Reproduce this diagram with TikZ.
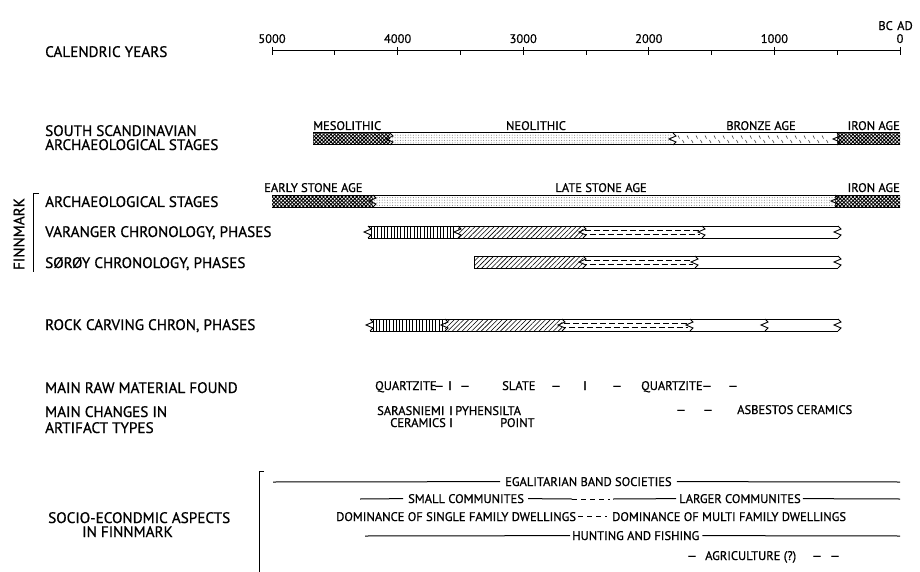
\documentclass[tikz,border=0pt]{standalone}
\usepackage{fontspec}
\setmainfont{PT Sans}[FakeBold=0.8]
\usetikzlibrary{patterns.meta}
\tikzset{
  lab/.style={font=\fontsize{15.2}{17}\selectfont, anchor=base west, inner sep=0pt},
  num/.style={font=\fontsize{12.5}{14}\selectfont, anchor=base, inner sep=0pt},
  blab/.style={font=\fontsize{12.5}{14}\selectfont, inner sep=0pt},
  sm/.style={font=\fontsize{12.5}{14}\selectfont, anchor=base west, inner sep=0pt},
  smc/.style={font=\fontsize{12.5}{14}\selectfont, anchor=base, inner sep=0pt},
  axisline/.style={line width=1pt},
  barline/.style={line width=1pt},
  zzline/.style={line width=0.9pt},
  sline/.style={line width=1pt},
  dline/.style={line width=1pt, dash pattern=on 5pt off 4pt},
  xfill/.style={pattern={Hatch[angle=45,distance=2.6pt,line width=.9pt]}},
  dotfill/.style={pattern={Dots[distance=2.6pt,radius=.5pt]}, pattern color=black!55},
  diagfill/.style={pattern={Lines[angle=45,distance=3.4pt,line width=.6pt]}},
  vl/.style={line width=0.6pt},
  dfill/.style={line width=0.7pt, dash pattern=on 6pt off 3pt},
  bstroke/.style={line width=0.6pt, black!80},
}
\newcommand\zz[2]{\draw[zzline] (#1,#2) -- ++(3,3) -- ++(-7,3) -- ++(7,3) -- ++(-3,3);}
\newcommand\dashrows[3]{% x1 x2 top
  \draw[dfill] (#1,#3+4) -- (#2,#3+4);
  \draw[dfill, dash phase=4.5pt] (#1,#3+8.5) -- (#2,#3+8.5);}
\begin{document}
\begin{tikzpicture}[x=1pt,y=-1pt]
\useasboundingbox[fill=white] (0,0) rectangle (920,572);

% ---------- left labels ----------
\node[lab] (cal) at (45,57) {CALENDRIC YEARS};
\node[lab] (ss1) at (45,136) {SOUTH SCANDINAVIAN};
\node[lab] (ss2) at (45,150) {ARCHAEOLOGICAL STAGES};
\node[lab] (fas) at (45,207) {ARCHAEOLOGICAL STAGES};
\node[lab] (var) at (45,237) {VARANGER CHRONOLOGY, PHASES};
\node[lab] (sor) at (45,268) {SØRØY CHRONOLOGY, PHASES};
\node[lab] (roc) at (45,330) {ROCK CARVING CHRON, PHASES};
\node[lab] (raw) at (45,393) {MAIN RAW MATERIAL FOUND};
\node[lab] (chg1) at (45,417) {MAIN CHANGES IN};
\node[lab] (chg2) at (45,433) {ARTIFACT TYPES};
\node[lab] (soc1) at (48,523) {SOCIO-ECONDMIC ASPECTS};
\node[lab] (soc2) at (82,537) {IN FINNMARK};
\node[lab, anchor=center, rotate=90] (fin) at (19,234) {FINNMARK};
\draw[sline] (39,193) -- (33.5,193) -- (33.5,272);

% ---------- axis ----------
\draw[axisline] (272,51) -- (900,51);
\foreach \y in {0,1000,...,5000} {
  \draw[axisline] ({900-0.1256*\y},47) -- ({900-0.1256*\y},55);
  \node[num] (yr\y) at ({900-0.1256*\y},43) {\y};
}
\foreach \y in {500,1500,...,4500} {
  \draw[axisline] ({900-0.1256*\y},51) -- ({900-0.1256*\y},55);
}
\node[num, anchor=base east] (bc) at (893,30) {BC};
\node[num, anchor=base west] (ad) at (897,30) {AD};

% ---------- South Scandinavian bar ----------
\fill[xfill] (313,133) rectangle (390,145);
\fill[dotfill] (390,133) rectangle (673,145);
\foreach \x in {678,687,...,830} {
  \draw[bstroke] (\x,135.5) -- ++(1.5,3);
  \draw[bstroke] ({\x+4.5},140) -- ++(1.5,3);
}
\fill[xfill] (837,133) rectangle (900,145);
\draw[barline] (313,133) -- (900,133) (313,145) -- (900,145);
\zz{390}{133} \zz{673}{133} \zz{837}{133}
\node[blab, anchor=base west] (meso) at (313,130) {MESOLITHIC};
\node[blab, anchor=base] (neo) at (536,130) {NEOLITHIC};
\node[blab, anchor=base] (bronze) at (761,130) {BRONZE AGE};
\node[blab, anchor=base east] (iron1) at (900,130) {IRON AGE};

% ---------- Finnmark archaeological stages ----------
\fill[xfill] (272,195) rectangle (373,207);
\fill[dotfill] (373,195) rectangle (835,207);
\fill[xfill] (835,195) rectangle (900,207);
\draw[barline] (272,195) -- (900,195) (272,207) -- (900,207);
\zz{373}{195} \zz{835}{195}
\node[blab, anchor=base west] (esa) at (264,192) {EARLY STONE AGE};
\node[blab, anchor=base] (lsa) at (601,192) {LATE STONE AGE};
\node[blab, anchor=base east] (iron2) at (900,192) {IRON AGE};

% ---------- Varanger ----------
\foreach \x in {371,374.3,...,456} {\draw[vl] (\x,226) -- (\x,238);}
\fill[diagfill] (458,226) rectangle (583,238);
\dashrows{585}{700}{226}
\draw[barline] (368,226) -- (838,226) (368,238) -- (838,238);
\zz{368}{226} \zz{458}{226} \zz{583}{226} \zz{702}{226} \zz{838}{226}

% ---------- Soroy ----------
\fill[diagfill] (474,256) rectangle (583,268);
\dashrows{585}{693}{256}
\draw[barline] (474,256) -- (838,256) (474,268) -- (838,268) (474,256) -- (474,268);
\zz{583}{256} \zz{695}{256} \zz{838}{256}

% ---------- Rock carving ----------
\foreach \x in {373,376.3,...,443} {\draw[vl] (\x,319) -- (\x,331);}
\fill[diagfill] (445,319) rectangle (562,331);
\dashrows{564}{688}{319}
\draw[barline] (370,319) -- (838,319) (370,331) -- (838,331);
\zz{370}{319} \zz{445}{319} \zz{562}{319} \zz{690}{319} \zz{765}{319} \zz{838}{319}

% ---------- raw material ----------
\node[sm] (q1) at (375,390) {QUARTZITE};
\node[smc] (r1) at (439,390) {—};
\node[smc] (r2) at (450,390) {I};
\node[smc] (r3) at (465,390) {—};
\node[sm] (slate) at (502,390) {SLATE};
\node[smc] (r4) at (556,390) {—};
\node[smc] (r5) at (585,390) {I};
\node[smc] (r6) at (617,390) {—};
\node[sm] (q2) at (641,390) {QUARTZITE};
\node[smc] (r7) at (707,390) {—};
\node[smc] (r8) at (733,390) {—};

% ---------- artifact types ----------
\node[sm] (sara) at (377,415) {SARASNIEMI};
\node[smc] (a1) at (451,415) {I};
\node[sm] (pyh) at (455,415) {PYHENSILTA};
\node[sm, anchor=base east] (cer) at (446,427) {CERAMICS};
\node[smc] (a2) at (451,427) {I};
\node[sm] (point) at (500,427) {POINT};
\node[smc] (a3) at (681,414) {—};
\node[smc] (a4) at (708,414) {—};
\node[sm] (asb) at (737,414) {ASBESTOS CERAMICS};

% ---------- socio-economic ----------
\draw[sline] (264,471) -- (259,471) -- (259,572);
\node[sm] (egal) at (505,486) {EGALITARIAN BAND SOCIETIES};
\coordinate (e0) at (273,482);
\coordinate (e1) at (900,482);
\draw[sline] (e0) -- ([xshift=-5pt]egal.west);
\draw[sline] ([xshift=5pt]egal.east) -- (e1);

\node[sm] (small) at (408,503) {SMALL COMMUNITES};
\node[sm] (larger) at (679,503) {LARGER COMMUNITES};
\coordinate (s0) at (360,499);
\coordinate (s1) at (572,499);
\coordinate (s2) at (610,499);
\coordinate (s3) at (900,499);
\draw[sline] (s0) -- ([xshift=-5pt]small.west);
\draw[sline] ([xshift=4pt]small.east) -- (s1);
\draw[dline] (s1) -- (s2);
\draw[sline] ([xshift=3pt]s2) -- ([xshift=-3pt]larger.west);
\draw[sline] ([xshift=2pt]larger.east) -- (s3);

\node[sm] (dom1) at (336,521) {DOMINANCE OF SINGLE FAMILY DWELLINGS};
\node[sm] (dom2) at (612,521) {DOMINANCE OF MULTI FAMILY DWELLINGS};
\draw[dline] ([xshift=2pt]dom1.east) -- ([xshift=-5pt]dom2.west);

\node[sm] (hunt) at (572,540) {HUNTING AND FISHING};
\coordinate (h0) at (365,536);
\coordinate (h1) at (900,536);
\draw[sline] (h0) -- ([xshift=-2pt]hunt.west);
\draw[sline] ([xshift=3pt]hunt.east) -- (h1);

\node[smc] (g1) at (692,560) {—};
\node[sm] (agri) at (705,560) {AGRICULTURE (?)};
\node[smc] (g2) at (817,560) {—};
\node[smc] (g3) at (835,560) {—};
\end{tikzpicture}
\end{document}
